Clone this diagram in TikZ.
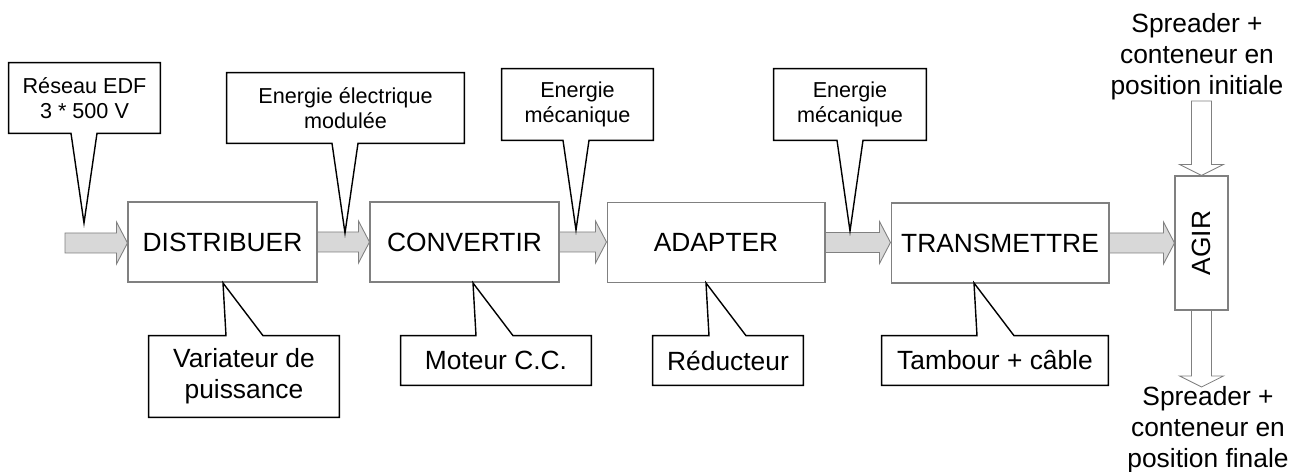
\documentclass[tikz,border=0pt]{standalone}
\usepackage{fontspec}
\setmainfont{Liberation Sans}
\usetikzlibrary{calc}

\definecolor{grisbord}{RGB}{128,128,128}
\definecolor{grisfleche}{RGB}{216,216,216}

\newcommand{\flecheh}[2]{%
  \draw[fleche] let \p1=(#1), \p2=(#2) in
    (\x1,\y1+0.2cm) -- (\x2-0.22cm,\y1+0.2cm) -- (\x2-0.22cm,\y1+0.42cm) -- (\x2,\y1)
    -- (\x2-0.22cm,\y1-0.42cm) -- (\x2-0.22cm,\y1-0.2cm) -- (\x1,\y1-0.2cm) -- cycle;}
\newcommand{\flechev}[2]{%
  \draw[flechevide] let \p1=(#1), \p2=(#2) in
    (\x1-0.2cm,\y1) -- (\x1-0.2cm,\y2+0.22cm) -- (\x1-0.44cm,\y2+0.22cm) -- (\x1,\y2)
    -- (\x1+0.44cm,\y2+0.22cm) -- (\x1+0.2cm,\y2+0.22cm) -- (\x1+0.2cm,\y1) -- cycle;}
\newcommand{\bullehaut}[2]{%
  \draw[bulle] (#1.south west) -- (#1.north west) -- (#1.north east) -- (#1.south east)
    -- ([xshift=0.26cm]#2 |- #1.south) -- (#2) -- ([xshift=-0.26cm]#2 |- #1.south) -- cycle;}
\newcommand{\bullebas}[2]{%
  \draw[bulle] (#1.north west) -- ([xshift=0.06cm]#2 |- #1.north) -- (#2)
    -- ([xshift=0.8cm]#2 |- #1.north) -- (#1.north east) -- (#1.south east) -- (#1.south west) -- cycle;}

\begin{document}
\begin{tikzpicture}[x=0.02cm,y=-0.02cm]
\tikzset{bloc/.style={draw=grisbord,line width=0.6pt,minimum height=1.6cm,inner sep=0pt,font=\fontsize{15}{18}\selectfont}}
\tikzset{fleche/.style={draw=grisbord,fill=grisfleche,line width=0.5pt}}
\tikzset{flechevide/.style={draw=grisbord,fill=white,line width=0.5pt}}
\tikzset{bulle/.style={draw=black,line width=0.8pt,line join=miter}}
\tikzset{textehaut/.style={align=center,inner sep=0pt,font=\fontsize{12.3}{14.3}\selectfont}}
\tikzset{textebas/.style={align=center,inner sep=0pt,font=\fontsize{15}{17.6}\selectfont}}
\useasboundingbox (0,0) rectangle (1292,472);

\node[bloc,minimum width=3.78cm] (distribuer) at (222.5,242) {DISTRIBUER};
\node[bloc,minimum width=3.78cm] (convertir) at (464.5,242) {CONVERTIR};
\node[bloc,minimum width=4.36cm] (adapter) at (716,242.5) {ADAPTER};
\node[bloc,minimum width=4.36cm] (transmettre) at (1000,243) {TRANSMETTRE};
\node[bloc,minimum width=1.06cm,minimum height=2.68cm] (agir) at (1201.5,243) {\rotatebox{90}{AGIR}};

\coordinate (entree) at (65,243);
\coordinate (haut) at (1201.5,101);
\coordinate (bas) at (1201.5,387);

\flecheh{entree}{distribuer.west}
\flecheh{distribuer.east}{convertir.west}
\flecheh{convertir.east}{adapter.west}
\flecheh{adapter.east}{transmettre.west}
\flecheh{transmettre.east}{agir.west}
\flechev{haut}{agir.north}
\flechev{agir.south}{bas}

\node[textebas] (initiale) at (1197,57) {Spreader +\\conteneur en\\position initiale};
\node[textebas] (finale) at (1208,430) {Spreader +\\conteneur en\\position finale};

\node[textehaut,minimum width=3.02cm,minimum height=1.4cm] (reseau) at (84.5,98) {Réseau EDF\\3 * 500 V};
\node[textehaut,minimum width=4.74cm,minimum height=1.4cm] (electrique) at (345.5,108) {Energie électrique\\modulée};
\node[textehaut,minimum width=3.02cm,minimum height=1.42cm] (mecanique) at (577.5,104.5) {Energie\\mécanique};
\node[textehaut,minimum width=3.04cm,minimum height=1.42cm] (mecaniquebis) at (850,104.5) {Energie\\mécanique};

\coordinate (preseau) at (84,223);
\coordinate (pelectrique) at (345,233);
\coordinate (pmecanique) at (576,230);
\coordinate (pmecaniquebis) at (850,231);

\bullehaut{reseau}{preseau}
\bullehaut{electrique}{pelectrique}
\bullehaut{mecanique}{pmecanique}
\bullehaut{mecaniquebis}{pmecaniquebis}

\node[textebas,minimum width=3.8cm,minimum height=1.62cm] (variateur) at (244,376.5) {Variateur de\\puissance};
\node[textebas,minimum width=3.8cm,minimum height=0.98cm] (moteur) at (496,360.5) {Moteur C.C.};
\node[textebas,minimum width=3cm,minimum height=0.98cm] (reducteur) at (728,360.5) {Réducteur};
\node[textebas,minimum width=4.52cm,minimum height=0.98cm] (tambour) at (995,360.5) {Tambour + câble};

\coordinate (pvariateur) at (223,283);
\coordinate (pmoteur) at (473,283);
\coordinate (preducteur) at (706,283);
\coordinate (ptambour) at (974,283);

\bullebas{variateur}{pvariateur}
\bullebas{moteur}{pmoteur}
\bullebas{reducteur}{preducteur}
\bullebas{tambour}{ptambour}
\end{tikzpicture}
\end{document}
